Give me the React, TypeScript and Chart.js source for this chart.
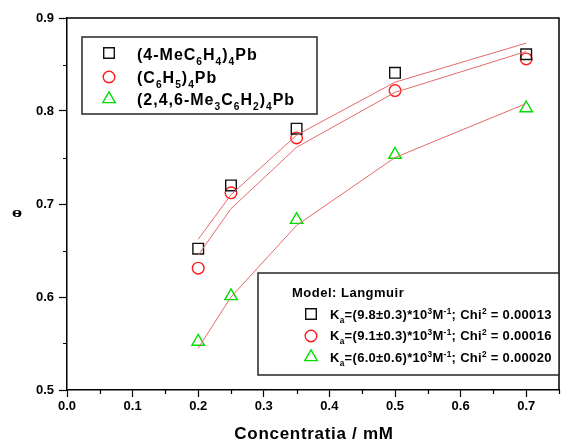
import React, { useEffect, useRef } from "react";
import { Chart, registerables } from "chart.js";

Chart.register(...registerables);

// Adsorption data: surface coverage θ versus concentration (mM)
const concentration = [0.2, 0.25, 0.35, 0.5, 0.7];
const thetaMeC6H4 = [0.652, 0.72, 0.781, 0.841, 0.861];
const thetaC6H5 = [0.631, 0.712, 0.771, 0.822, 0.856];
const thetaMesityl = [0.552, 0.601, 0.683, 0.753, 0.803];

// Langmuir fit curves
const fitMeC6H4 = [0.662, 0.71, 0.774, 0.831, 0.873];
const fitC6H5 = [0.645, 0.695, 0.761, 0.82, 0.864];
const fitMesityl = [0.545, 0.6, 0.677, 0.75, 0.808];

// Axis ticks
const xMajorTicks = [0, 0.1, 0.2, 0.3, 0.4, 0.5, 0.6, 0.7];
const xMinorTicks = [0.05, 0.15, 0.25, 0.35, 0.45, 0.55, 0.65, 0.75];
const yMinorTicks = [0.55, 0.65, 0.75, 0.85];

const xTitle = "Concentratia / mM";
const yTitle = "θ";

type Part = { t: string; k?: "sub" | "sup" };

const compoundLabels: Part[][] = [
  [{ t: "(4-MeC" }, { t: "6", k: "sub" }, { t: "H" }, { t: "4", k: "sub" }, { t: ")" }, { t: "4", k: "sub" }, { t: "Pb" }],
  [{ t: "(C" }, { t: "6", k: "sub" }, { t: "H" }, { t: "5", k: "sub" }, { t: ")" }, { t: "4", k: "sub" }, { t: "Pb" }],
  [
    { t: "(2,4,6-Me" }, { t: "3", k: "sub" }, { t: "C" }, { t: "6", k: "sub" }, { t: "H" }, { t: "2", k: "sub" },
    { t: ")" }, { t: "4", k: "sub" }, { t: "Pb" },
  ],
];

const modelTitle = "Model: Langmuir";
const fitK = ["9.8±0.3", "9.1±0.3", "6.0±0.6"];
const fitChi = ["0.00013", "0.00016", "0.00020"];

const FONT = '"Liberation Sans", Arial, sans-serif';
const LINE_RED = "#e46a6a";
const GREEN = "#00e000";

type Marker = "rect" | "circle" | "triangle";
const markers: { style: Marker; color: string; radius: number }[] = [
  { style: "rect", color: "#111111", radius: 7.5 },
  { style: "circle", color: "#ff1a1a", radius: 5.8 },
  { style: "triangle", color: GREEN, radius: 7.2 },
];

function drawMarker(ctx: CanvasRenderingContext2D, m: Marker, x: number, y: number, r: number, color: string) {
  ctx.save();
  ctx.strokeStyle = color;
  ctx.lineWidth = 1.4;
  ctx.beginPath();
  if (m === "rect") {
    const s = Math.SQRT1_2 * r;
    ctx.rect(x - s, y - s, 2 * s, 2 * s);
  } else if (m === "circle") {
    ctx.arc(x, y, r, 0, Math.PI * 2);
  } else {
    const h = r * 0.866;
    ctx.moveTo(x, y - r);
    ctx.lineTo(x + h, y + r / 2);
    ctx.lineTo(x - h, y + r / 2);
    ctx.closePath();
  }
  ctx.stroke();
  ctx.restore();
}

function drawRich(ctx: CanvasRenderingContext2D, parts: Part[], x: number, y: number, size: number, spacing: number) {
  let cx = x;
  for (const p of parts) {
    const s = p.k ? size * 0.64 : size;
    const dy = p.k === "sub" ? size * 0.3 : p.k === "sup" ? -size * 0.42 : 0;
    ctx.font = `bold ${s}px ${FONT}`;
    (ctx as any).letterSpacing = `${spacing}px`;
    ctx.fillText(p.t, cx, y + dy);
    cx += ctx.measureText(p.t).width;
  }
}

const decorations = {
  id: "decorations",
  afterDraw(chart: any) {
    const { ctx, chartArea: a } = chart;
    const x = chart.scales.x;
    const y = chart.scales.y;
    ctx.save();

    // frame top and right edges
    ctx.strokeStyle = "#000";
    ctx.lineWidth = 1.5;
    ctx.beginPath();
    ctx.moveTo(a.left, a.top);
    ctx.lineTo(a.right, a.top);
    ctx.lineTo(a.right, a.bottom);
    ctx.stroke();

    // minor ticks
    ctx.lineWidth = 1.2;
    ctx.beginPath();
    for (const v of xMinorTicks) {
      const px = Math.round(x.getPixelForValue(v)) + 0.5;
      ctx.moveTo(px, a.bottom);
      ctx.lineTo(px, a.bottom + 4);
    }
    for (const v of yMinorTicks) {
      const py = Math.round(y.getPixelForValue(v)) + 0.5;
      ctx.moveTo(a.left, py);
      ctx.lineTo(a.left - 4, py);
    }
    ctx.stroke();

    // axis titles
    ctx.fillStyle = "#000";
    ctx.textAlign = "center";
    ctx.textBaseline = "alphabetic";
    ctx.font = `bold 17px ${FONT}`;
    (ctx as any).letterSpacing = "0.7px";
    ctx.fillText(xTitle, (a.left + a.right) / 2 + 1, 439);
    (ctx as any).letterSpacing = "0px";

    ctx.save();
    ctx.translate(17, 214.5);
    ctx.scale(1.3, 0.6);
    ctx.font = `bold 15px ${FONT}`;
    ctx.textBaseline = "middle";
    ctx.fillText(yTitle, 0, 0);
    ctx.restore();

    // compound legend
    ctx.textAlign = "left";
    ctx.strokeStyle = "#333";
    ctx.lineWidth = 1.6;
    ctx.strokeRect(82, 37, 235, 77);
    const rows1 = [53, 77, 99];
    const base1 = [60, 83, 105];
    compoundLabels.forEach((parts, i) => {
      drawMarker(ctx, markers[i].style, 109, rows1[i], markers[i].radius, markers[i].color);
      ctx.fillStyle = "#000";
      drawRich(ctx, parts, 137, base1[i], 16, 1.0);
    });

    // fit legend
    ctx.fillStyle = "#fff";
    ctx.fillRect(258, 273, 301, 102);
    ctx.strokeStyle = "#333";
    ctx.lineWidth = 1.6;
    ctx.strokeRect(258, 273, 301, 102);
    ctx.fillStyle = "#000";
    drawRich(ctx, [{ t: modelTitle }], 292, 297, 13, 0.5);
    const rows2 = [314, 336, 357];
    const base2 = [319, 340, 362];
    fitK.forEach((k, i) => {
      drawMarker(ctx, markers[i].style, 311, rows2[i], markers[i].radius, markers[i].color);
      ctx.fillStyle = "#000";
      drawRich(
        ctx,
        [
          { t: "K" }, { t: "a", k: "sub" }, { t: `=(${k})*10` }, { t: "3", k: "sup" }, { t: "M" }, { t: "-1", k: "sup" },
          { t: "; Chi" }, { t: "2", k: "sup" }, { t: ` = ${fitChi[i]}` },
        ],
        330,
        base2[i],
        13,
        0.3
      );
    });
    (ctx as any).letterSpacing = "0px";
    ctx.restore();
  },
};

function pts(ys: number[]) {
  return concentration.map((c, i) => ({ x: c, y: ys[i] }));
}

export default function App() {
  const ref = useRef<HTMLCanvasElement>(null);

  useEffect(() => {
    if (!ref.current) return;
    const fitLine = (ys: number[]) => ({
      data: pts(ys),
      showLine: true,
      borderColor: LINE_RED,
      borderWidth: 1,
      pointRadius: 0,
      fill: false,
    });
    const series = (ys: number[], i: number) => ({
      data: pts(ys),
      showLine: false,
      pointStyle: markers[i].style,
      pointRadius: markers[i].radius,
      pointBorderColor: markers[i].color,
      pointBackgroundColor: "rgba(0,0,0,0)",
      pointBorderWidth: 1.4,
    });
    const chart = new Chart(ref.current, {
      type: "scatter",
      data: {
        datasets: [
          fitLine(fitMeC6H4),
          fitLine(fitC6H5),
          fitLine(fitMesityl),
          series(thetaMeC6H4, 0),
          series(thetaC6H5, 1),
          series(thetaMesityl, 2),
        ] as any,
      },
      options: {
        animation: false,
        responsive: false,
        layout: { padding: { left: 0, top: 18, right: 24, bottom: 0 } },
        plugins: { legend: { display: false }, tooltip: { enabled: false } },
        scales: {
          x: {
            type: "linear",
            min: 0,
            max: 0.75,
            afterBuildTicks: (s: any) => {
              s.ticks = xMajorTicks.map((v) => ({ value: v }));
            },
            afterFit: (s: any) => {
              s.height = 51;
            },
            ticks: {
              callback: (v: any) => Number(v).toFixed(1),
              color: "#000",
              font: { family: FONT, size: 13, weight: "bold" },
              padding: 2,
              maxRotation: 0,
            },
            grid: { drawOnChartArea: false, drawTicks: true, tickLength: 7, tickWidth: 1.2, tickColor: "#000" },
            border: { display: true, color: "#000", width: 1.5 },
          },
          y: {
            type: "linear",
            min: 0.5,
            max: 0.9,
            ticks: {
              stepSize: 0.1,
              callback: (v: any) => Number(v).toFixed(1),
              color: "#000",
              font: { family: FONT, size: 13, weight: "bold" },
              padding: 5,
            },
            afterFit: (s: any) => {
              s.width = 67;
            },
            grid: { drawOnChartArea: false, drawTicks: true, tickLength: 8, tickWidth: 1.2, tickColor: "#000" },
            border: { display: true, color: "#000", width: 1.5 },
          },
        },
      } as any,
      plugins: [decorations],
    });
    return () => chart.destroy();
  }, []);

  return (
    <div style={{ position: "absolute", left: 0, top: 0, width: 583, height: 441, background: "#fff" }}>
      <canvas ref={ref} width={583} height={441} />
    </div>
  );
}
